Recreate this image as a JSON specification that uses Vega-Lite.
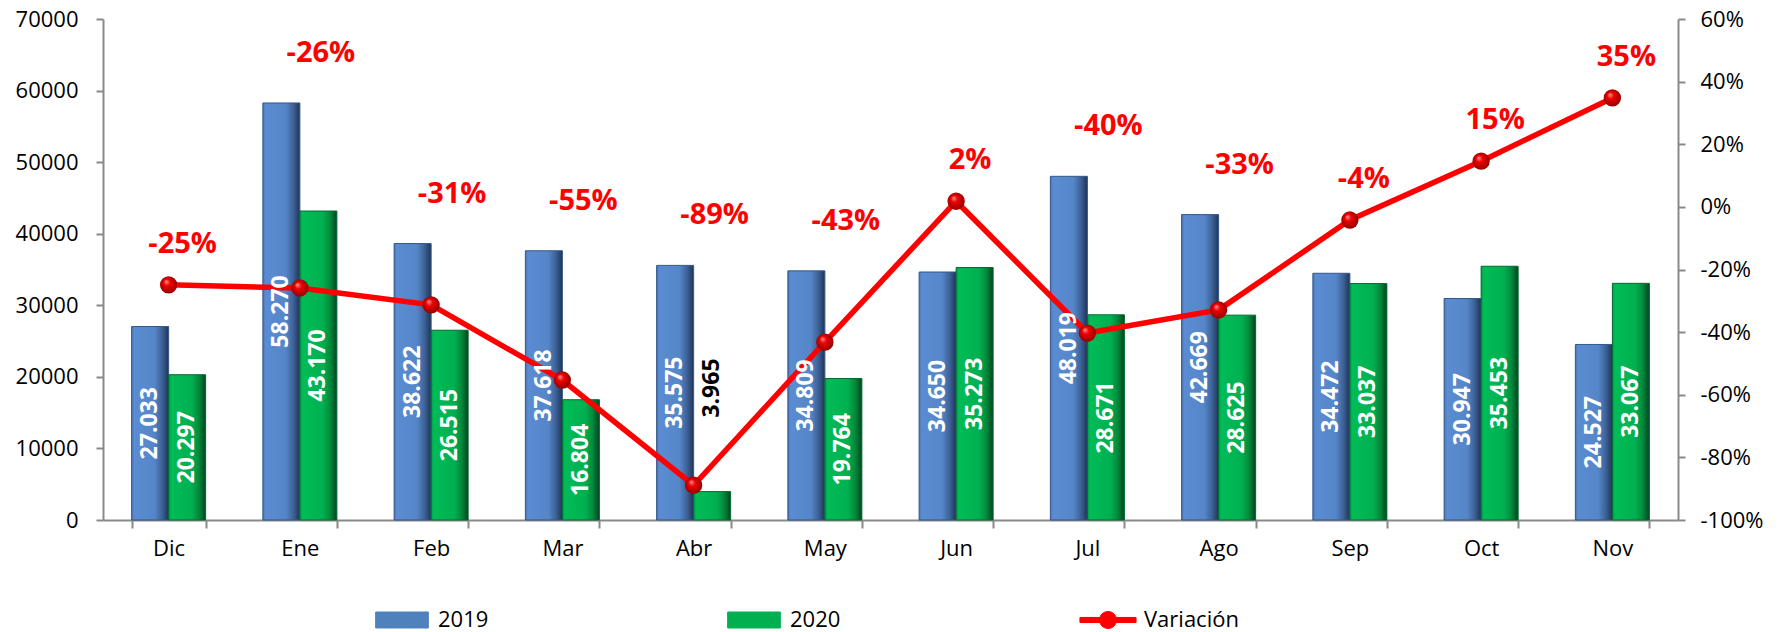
{
  "$schema": "https://vega.github.io/schema/vega-lite/v6.json",
  "width": 1575,
  "height": 501,
  "autosize": "none",
  "padding": {"left": 103, "top": 19, "right": 109, "bottom": 112},
  "background": "white",
  "config": {
    "locale": {"number": {"decimal": ",", "thousands": ".", "grouping": [3], "currency": ["", " €"], "minus": "-"}},
    "view": {"stroke": null},
    "axis": {"labelFont": "Open Sans", "labelFontSize": 22, "labelColor": "#000000", "domainColor": "#898989", "domainWidth": 2, "tickColor": "#898989", "tickWidth": 2, "tickSize": 7, "grid": false, "title": null}
  },
  "datasets": {
    "datos": [
      {"mes": "Dic", "serie": "2019", "valor": 27033},
      {"mes": "Dic", "serie": "2020", "valor": 20297},
      {"mes": "Dic", "serie": "Variación", "valor": -0.249},
      {"mes": "Ene", "serie": "2019", "valor": 58270},
      {"mes": "Ene", "serie": "2020", "valor": 43170},
      {"mes": "Ene", "serie": "Variación", "valor": -0.259},
      {"mes": "Feb", "serie": "2019", "valor": 38622},
      {"mes": "Feb", "serie": "2020", "valor": 26515},
      {"mes": "Feb", "serie": "Variación", "valor": -0.313},
      {"mes": "Mar", "serie": "2019", "valor": 37618},
      {"mes": "Mar", "serie": "2020", "valor": 16804},
      {"mes": "Mar", "serie": "Variación", "valor": -0.553},
      {"mes": "Abr", "serie": "2019", "valor": 35575},
      {"mes": "Abr", "serie": "2020", "valor": 3965},
      {"mes": "Abr", "serie": "Variación", "valor": -0.889},
      {"mes": "May", "serie": "2019", "valor": 34809},
      {"mes": "May", "serie": "2020", "valor": 19764},
      {"mes": "May", "serie": "Variación", "valor": -0.432},
      {"mes": "Jun", "serie": "2019", "valor": 34650},
      {"mes": "Jun", "serie": "2020", "valor": 35273},
      {"mes": "Jun", "serie": "Variación", "valor": 0.018},
      {"mes": "Jul", "serie": "2019", "valor": 48019},
      {"mes": "Jul", "serie": "2020", "valor": 28671},
      {"mes": "Jul", "serie": "Variación", "valor": -0.403},
      {"mes": "Ago", "serie": "2019", "valor": 42669},
      {"mes": "Ago", "serie": "2020", "valor": 28625},
      {"mes": "Ago", "serie": "Variación", "valor": -0.329},
      {"mes": "Sep", "serie": "2019", "valor": 34472},
      {"mes": "Sep", "serie": "2020", "valor": 33037},
      {"mes": "Sep", "serie": "Variación", "valor": -0.042},
      {"mes": "Oct", "serie": "2019", "valor": 30947},
      {"mes": "Oct", "serie": "2020", "valor": 35453},
      {"mes": "Oct", "serie": "Variación", "valor": 0.146},
      {"mes": "Nov", "serie": "2019", "valor": 24527},
      {"mes": "Nov", "serie": "2020", "valor": 33067},
      {"mes": "Nov", "serie": "Variación", "valor": 0.348}
    ]
  },
  "data": {"name": "datos"},
  "layer": [
    {
      "layer": [
        {
          "transform": [{"filter": "datum.serie === '2019'"}],
          "mark": {"type": "bar", "stroke": "#34578A", "strokeWidth": 1,
            "fill": {"gradient": "linear", "x1": 0, "y1": 0, "x2": 1, "y2": 0, "stops": [
              {"offset": 0, "color": "#4674B4"}, {"offset": 0.07, "color": "#5B8CD2"}, {"offset": 0.62, "color": "#5586C8"}, {"offset": 0.82, "color": "#3D6298"}, {"offset": 1, "color": "#1F3454"}]}},
          "encoding": {
            "x": {"field": "mes", "type": "nominal", "sort": ["Dic","Ene","Feb","Mar","Abr","May","Jun","Jul","Ago","Sep","Oct","Nov"],
              "scale": {"paddingInner": 0.436, "paddingOuter": 0.218},
              "axis": {"tickBand": "extent", "labelAngle": 0, "labelPadding": 10, "tickSize": 8, "title": null}},
            "xOffset": {"field": "serie", "type": "nominal", "scale": {"domain": ["2019","2020"], "paddingInner": 0, "paddingOuter": 0}},
            "y": {"field": "valor", "type": "quantitative", "scale": {"domain": [0, 70000], "nice": false},
              "axis": {"orient": "left", "format": "d", "values": [0,10000,20000,30000,40000,50000,60000,70000], "labelPadding": 18, "title": null}}
          }
        },
        {
          "transform": [{"filter": "datum.serie === '2020'"}],
          "mark": {"type": "bar", "stroke": "#006A30", "strokeWidth": 1,
            "fill": {"gradient": "linear", "x1": 0, "y1": 0, "x2": 1, "y2": 0, "stops": [
              {"offset": 0, "color": "#009A45"}, {"offset": 0.07, "color": "#00BC57"}, {"offset": 0.62, "color": "#00B050"}, {"offset": 0.82, "color": "#00893C"}, {"offset": 1, "color": "#00441E"}]}},
          "encoding": {
            "x": {"field": "mes", "type": "nominal", "sort": ["Dic","Ene","Feb","Mar","Abr","May","Jun","Jul","Ago","Sep","Oct","Nov"]},
            "xOffset": {"field": "serie", "type": "nominal"},
            "y": {"field": "valor", "type": "quantitative"}
          }
        },
        {
          "transform": [{"filter": "datum.serie !== 'Variación' && datum.valor < 8000"}],
          "mark": {"type": "text", "angle": 270, "align": "left", "baseline": "middle", "dx": 74, "font": "Open Sans", "fontWeight": "bold", "fontSize": 23, "color": "#000000"},
          "encoding": {
            "x": {"field": "mes", "type": "nominal", "sort": ["Dic","Ene","Feb","Mar","Abr","May","Jun","Jul","Ago","Sep","Oct","Nov"]},
            "xOffset": {"field": "serie", "type": "nominal"},
            "y": {"field": "valor", "type": "quantitative"},
            "text": {"field": "valor", "type": "quantitative", "format": ",d"}
          }
        },
        {
          "transform": [
            {"joinaggregate": [{"op": "max", "field": "valor", "as": "maxBarra"}], "groupby": ["mes"]},
            {"filter": "datum.serie === 'Variación' && datum.maxBarra >= (datum.valor + 1) * 43750"}
          ],
          "mark": {"type": "text", "dy": -50, "dx": 21, "baseline": "middle", "font": "Open Sans", "fontWeight": "bold", "fontSize": 29, "color": "#FF0000"},
          "encoding": {
            "x": {"field": "mes", "type": "nominal", "sort": ["Dic","Ene","Feb","Mar","Abr","May","Jun","Jul","Ago","Sep","Oct","Nov"]},
            "y": {"field": "maxBarra", "type": "quantitative"},
            "text": {"field": "valor", "type": "quantitative", "format": ".0%"}
          }
        }
      ]
    },
    {
      "layer": [
        {
          "transform": [{"filter": "datum.serie === 'Variación'"}],
          "mark": {"type": "line", "strokeWidth": 5.5},
          "encoding": {
            "x": {"field": "mes", "type": "nominal", "sort": ["Dic","Ene","Feb","Mar","Abr","May","Jun","Jul","Ago","Sep","Oct","Nov"]},
            "y": {"field": "valor", "type": "quantitative", "scale": {"domain": [-1, 0.6], "nice": false},
              "axis": {"orient": "right", "format": ".0%", "values": [-1,-0.8,-0.6,-0.4,-0.2,0,0.2,0.4,0.6], "labelPadding": 15, "title": null}},
            "color": {"field": "serie", "type": "nominal",
              "scale": {"domain": ["2019","2020","Variación"], "range": ["#4F81BD","#00B050","#FF0000"]},
              "legend": {"orient": "none", "legendX": 288, "legendY": 590, "direction": "horizontal", "title": null,
                "labelFont": "Open Sans", "labelFontSize": 22, "labelColor": "#000000", "symbolSize": 289, "labelOffset": 25, "columnPadding": 236, "padding": 0,
                "encode": {"symbols": {"update": {
                  "shape": {"signal": "datum.value === 'Variación' ? 'M-3.3,-0.3H3.3V0.3H-3.3Z M-1,0A1,1 0 1,1 1,0A1,1 0 1,1 -1,0Z' : 'M-3.1,-0.94H3.1V0.94H-3.1Z'"},
                  "fill": {"signal": "datum.value === '2019' ? '#4F81BD' : datum.value === '2020' ? '#00B050' : '#FF0000'"},
                  "stroke": {"signal": "datum.value === '2019' ? '#34578A' : datum.value === '2020' ? '#006A30' : '#C00000'"},
                  "strokeWidth": {"value": 1},
                  "opacity": {"value": 1}
                }}}}}
          }
        },
        {
          "transform": [{"filter": "datum.serie === 'Variación'"}],
          "mark": {"type": "point", "filled": true, "size": 300, "opacity": 1, "strokeWidth": 0,
            "fill": {"gradient": "radial", "x1": 0.35, "y1": 0.3, "r1": 0, "x2": 0.5, "y2": 0.5, "r2": 0.55, "stops": [
              {"offset": 0, "color": "#FF9A9A"}, {"offset": 0.35, "color": "#F00000"}, {"offset": 1, "color": "#8B0000"}]}},
          "encoding": {
            "x": {"field": "mes", "type": "nominal", "sort": ["Dic","Ene","Feb","Mar","Abr","May","Jun","Jul","Ago","Sep","Oct","Nov"]},
            "y": {"field": "valor", "type": "quantitative"}
          }
        },
        {
          "transform": [
            {"joinaggregate": [{"op": "max", "field": "valor", "as": "maxBarra"}], "groupby": ["mes"]},
            {"filter": "datum.serie === 'Variación' && datum.maxBarra < (datum.valor + 1) * 43750"}
          ],
          "mark": {"type": "text", "dy": -41, "dx": 14, "baseline": "middle", "font": "Open Sans", "fontWeight": "bold", "fontSize": 29, "color": "#FF0000"},
          "encoding": {
            "x": {"field": "mes", "type": "nominal", "sort": ["Dic","Ene","Feb","Mar","Abr","May","Jun","Jul","Ago","Sep","Oct","Nov"]},
            "y": {"field": "valor", "type": "quantitative"},
            "text": {"field": "valor", "type": "quantitative", "format": ".0%"}
          }
        }
      ]
    },
    {
      "transform": [{"filter": "datum.serie !== 'Variación' && datum.valor >= 8000"}],
      "mark": {"type": "text", "angle": 270, "align": "center", "baseline": "middle", "font": "Open Sans", "fontWeight": "bold", "fontSize": 23, "color": "#FFFFFF"},
      "encoding": {
        "x": {"field": "mes", "type": "nominal", "sort": ["Dic","Ene","Feb","Mar","Abr","May","Jun","Jul","Ago","Sep","Oct","Nov"]},
        "xOffset": {"field": "serie", "type": "nominal"},
        "y": {"field": "valor", "type": "quantitative", "scale": {"domain": [0, 140000], "nice": false}, "axis": null},
        "text": {"field": "valor", "type": "quantitative", "format": ",d"}
      }
    }
  ],
  "resolve": {"scale": {"y": "independent"}, "axis": {"y": "independent"}}
}
